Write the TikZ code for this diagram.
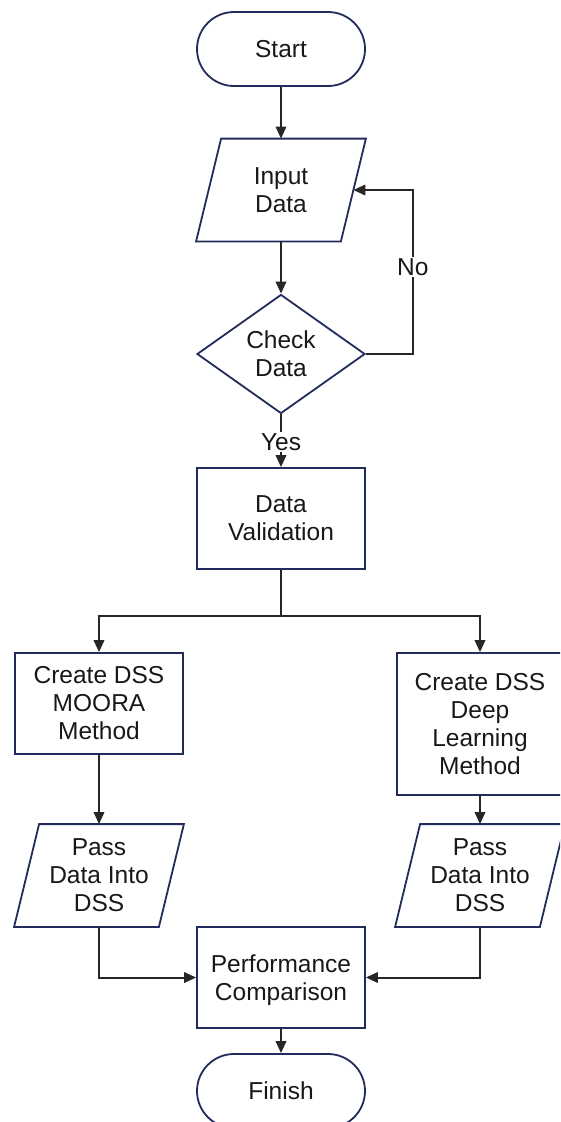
\documentclass[tikz,border=0pt]{standalone}
\usepackage{fontspec}
\setmainfont{Liberation Sans}
\usetikzlibrary{shapes.geometric,arrows.meta}
\definecolor{edge}{RGB}{34,44,92}
\definecolor{wire}{RGB}{38,38,38}
\definecolor{ink}{RGB}{24,24,24}
\newcommand{\nodp}[1]{\raisebox{0pt}[\height][0pt]{#1}}
\tikzset{
  outline/.style={draw=edge, line width=1.8pt, line join=miter},
  base/.style={outline, text=ink, align=center, inner sep=0pt,
    font=\fontsize{24.5}{28}\selectfont},
  term/.style={base, rectangle, rounded corners=37pt, minimum width=168pt, minimum height=74pt},
  proc/.style={base, rectangle, minimum width=168pt, minimum height=101pt},
  io/.style={base, draw=none, rectangle, minimum width=143pt, minimum height=101pt},
  decide/.style={base, diamond, aspect=1.4, minimum width=168pt, minimum height=119pt},
  arr/.style={draw=wire, line width=2pt, -{Triangle[length=12pt,width=10.5pt]}},
  lbl/.style={fill=white, text=ink, inner sep=1.5pt, font=\fontsize{24.5}{28}\selectfont}
}
\newcommand{\parl}[1]{\draw[outline] ([xshift=-12.5pt]#1.south west) -- ([xshift=-12.5pt]#1.south east)
  -- ([xshift=12.5pt]#1.north east) -- ([xshift=12.5pt]#1.north west) -- cycle;}
\begin{document}
\begin{tikzpicture}[x=1pt,y=-1pt]
\useasboundingbox (0,0) rectangle (560,1122);
\clip (0,0) rectangle (560,1122);
\node[term]   (start)  at (281,49)   {Start};
\node[io]     (inp)    at (281,190)  {Input\\Data};
\node[decide] (chk)    at (281,354)  {Check\\Data};
\node[proc]   (valid)  at (281,518.5){Data\\Validation};
\node[proc] (moora) at (99,703.5) {Create DSS\\MOORA\\Method};
\node[proc, minimum width=166pt, minimum height=142pt] (dl) at (480,724) {Create DSS\\Deep\\Learning\\Method};
\node[io]     (pass1)  at (99,875.5)  {Pass\\Data Into\\DSS};
\node[io]     (pass2)  at (480,875.5) {Pass\\Data Into\\DSS};
\node[proc]   (perf)   at (281,977.5) {Performance\\\nodp{Comparison}};
\node[term] (finish) at (281,1091) {Finish};
\parl{inp}
\parl{pass1}
\parl{pass2}

\draw[arr] (start) -- (inp);
\draw[arr] (inp) -- (chk);
\draw[arr] (chk.east) -- ++(47,0) |- node[lbl, pos=0.265] {No} (inp.east);
\draw[arr] (chk.south) -- node[lbl, pos=0.52] {Yes} (valid.north);
\draw[arr] (valid.south) -- ++(0,46) -| (moora.north);
\draw[arr] (valid.south) -- ++(0,46) -| (dl.north);
\draw[arr] (moora) -- (pass1);
\draw[arr] (dl) -- (pass2);
\draw[arr] (pass1.south) |- (perf.west);
\draw[arr] (pass2.south) |- (perf.east);
\draw[arr] (perf) -- (finish);
\end{tikzpicture}
\end{document}
